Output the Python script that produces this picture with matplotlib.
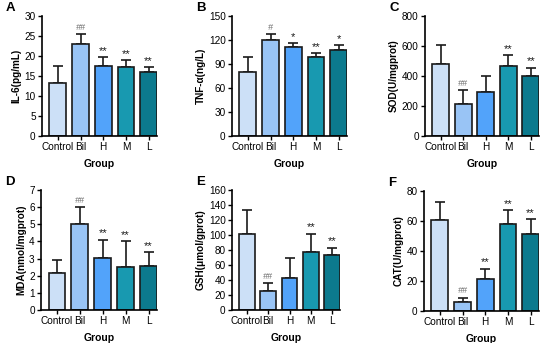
import matplotlib
matplotlib.use("Agg")
import matplotlib.pyplot as plt
import numpy as np

plt.rcParams['font.family'] = ['Liberation Sans', 'DejaVu Sans']

groups = ["Control", "Bil", "H", "M", "L"]
colors = ["#cce0f7", "#99c4f5", "#52a3fa", "#1899b0", "#0c7a8e"]

il6 = [13.2, 22.9, 17.5, 17.2, 16.0]
il6_err = [4.3, 2.5, 2.3, 1.7, 1.3]
il6_sig = ["", "##", "**", "**", "**"]

tnf = [79.4, 120.6, 111.0, 98.3, 107.5]
tnf_err = [18.9, 6.3, 5.0, 5.5, 6.0]
tnf_sig = ["", "#", "*", "**", "*"]

sod = [478, 216, 296, 467, 400]
sod_err = [131, 91, 104, 71, 56]
sod_sig = ["", "##", "", "**", "**"]

mda = [2.14, 5.02, 3.02, 2.53, 2.59]
mda_err = [0.78, 0.97, 1.08, 1.50, 0.78]
mda_sig = ["", "##", "**", "**", "**"]

gsh = [102, 25.8, 43, 77, 74]
gsh_err = [31, 10.2, 27, 25, 9]
gsh_sig = ["", "##", "", "**", "**"]

cat = [61, 6.2, 21.3, 58.2, 51.3]
cat_err = [12, 2.7, 6.9, 9.1, 10]
cat_sig = ["", "##", "**", "**", "**"]

panels = [
    ("A", "IL-6(pg/mL)", il6, il6_err, il6_sig, 30, 5),
    ("B", "TNF-α(ng/L)", tnf, tnf_err, tnf_sig, 150, 30),
    ("C", "SOD(U/mgprot)", sod, sod_err, sod_sig, 800, 200),
    ("D", "MDA(nmol/mgprot)", mda, mda_err, mda_sig, 7, 1),
    ("E", "GSH(μmol/gprot)", gsh, gsh_err, gsh_sig, 160, 20),
    ("F", "CAT(U/mgprot)", cat, cat_err, cat_sig, 80, 20),
]

W, H = 550, 343
fig = plt.figure(figsize=(5.5, 3.43), dpi=100)

# pixel boxes: left, top, right, bottom
boxes = [
    (42, 16, 157, 136),
    (232, 16, 347, 136),
    (425, 16, 539, 136),
    (41, 190, 157, 310),
    (232, 190, 340, 310),
    (424, 191, 539, 311),
]

for (letter, ylabel, vals, errs, sigs, ymax, step), (l, t, r, b) in zip(panels, boxes):
    ax = fig.add_axes([l / W, 1 - b / H, (r - l) / W, (b - t) / H])
    x = np.arange(len(groups))
    ax.bar(x, vals, width=0.74, color=colors, edgecolor="#1a1a1a", linewidth=1.2, zorder=2)
    ax.errorbar(x, vals, yerr=[np.zeros(len(vals)), errs], fmt="none", ecolor="#1a1a1a",
                elinewidth=1.2, capsize=3.5, capthick=1.2, zorder=1)
    for xi, v, e, s in zip(x, vals, errs, sigs):
        if s:
            if "#" in s:
                ax.text(xi, v + e + ymax * 0.02, s, ha="center", va="bottom", fontsize=6.5,
                        color="#707070", style="italic")
            else:
                ax.text(xi, v + e + ymax * 0.01, s, ha="center", va="bottom", fontsize=8,
                        color="#1a1a1a")
    ax.set_xlim(-0.7, 4.37)
    ax.set_ylim(0, ymax)
    ax.set_yticks(np.arange(0, ymax + step / 2, step))
    ax.set_xticks(x)
    ax.set_xticklabels(groups)
    ax.spines["top"].set_visible(False)
    ax.spines["right"].set_visible(False)
    for sp in ("left", "bottom"):
        ax.spines[sp].set_linewidth(1.2)
    ax.tick_params(axis="both", direction="out", length=3, width=1.0, labelsize=7.2, pad=1.5)
    ax.set_ylabel(ylabel, fontsize=7.2, fontweight="bold", labelpad=2)
    ax.set_xlabel("Group", fontsize=7.5, fontweight="bold", labelpad=5)
    fig.text((l - 36) / W, 1 - (t - 8) / H, letter, fontsize=9.5, fontweight="bold",
             ha="left", va="center")

fig.savefig("out.png", dpi=100)
